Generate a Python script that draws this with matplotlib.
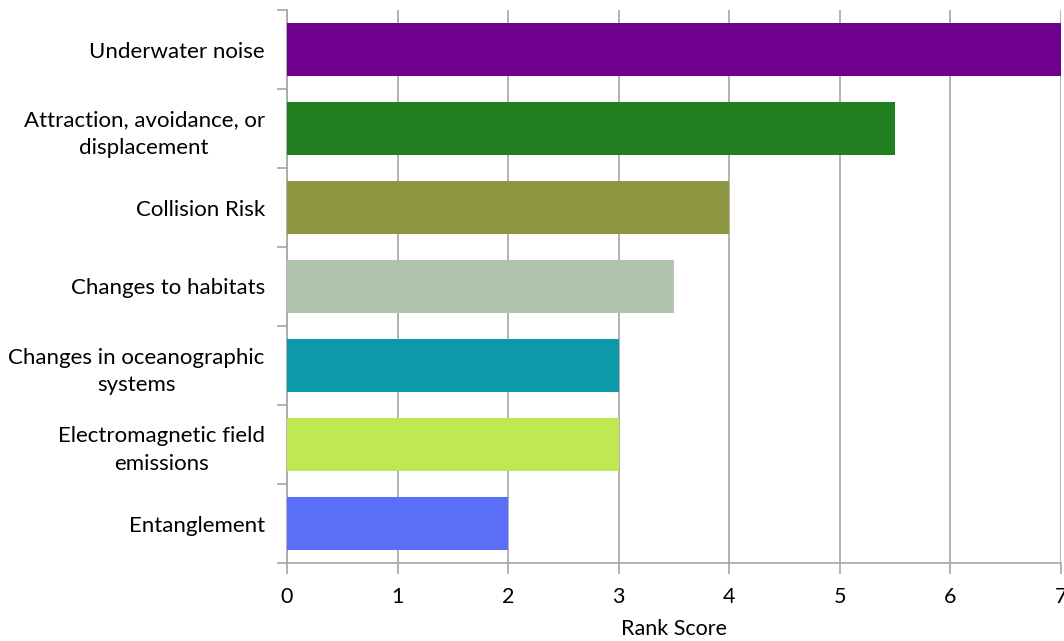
import matplotlib.pyplot as plt
import numpy as np

# impact categories, top to bottom
categories = [
    'Underwater noise',
    'Attraction, avoidance, or\ndisplacement',
    'Collision Risk',
    'Changes to habitats',
    'Changes in oceanographic\nsystems',
    'Electromagnetic field\nemissions',
    'Entanglement',
]
scores = [7, 5.5, 4, 3.5, 3, 3, 2]
colors = ['#6f008f', '#217f1f', '#8e9641', '#b1c4ae', '#0e99aa', '#bee952', '#5a6ef8']
xticks = [0, 1, 2, 3, 4, 5, 6, 7]

plt.rcParams['font.family'] = ['Lato', 'DejaVu Sans']

fig = plt.figure(figsize=(10.64, 6.41), dpi=100)
ax = fig.add_axes([287 / 1064, 1 - 563 / 641, (1061 - 287) / 1064, (563 - 10) / 641])

y = np.arange(len(categories))
ax.barh(y, scores, height=0.66, color=colors, zorder=3)

ax.set_xlim(0, 7)
ax.set_ylim(len(categories) - 0.5, -0.5)
ax.set_xticks(xticks)
ax.set_xticklabels([str(t) for t in xticks], fontsize=15.5)

# category labels in the middle, tick marks on the boundaries
ax.set_yticks(y)
ax.set_yticklabels(categories, fontsize=16, multialignment='center', linespacing=1.45)
ax.tick_params(axis='y', which='major', length=0, pad=16)
ax.set_yticks(np.arange(-0.5, len(categories) + 0.5, 1), minor=True)
ax.tick_params(axis='y', which='minor', length=7, color='#a6a6a6', width=1.2)
ax.tick_params(axis='x', length=8, color='#a6a6a6', width=1.2, pad=9)

ax.grid(axis='x', color='#a6a6a6', linewidth=1.2, zorder=0)
for side in ['top', 'right']:
    ax.spines[side].set_visible(False)
for side in ['left', 'bottom']:
    ax.spines[side].set_color('#a6a6a6')
    ax.spines[side].set_linewidth(1.2)

ax.set_xlabel('Rank Score', fontsize=15.5, labelpad=9)

fig.savefig('out.png', dpi=100)
